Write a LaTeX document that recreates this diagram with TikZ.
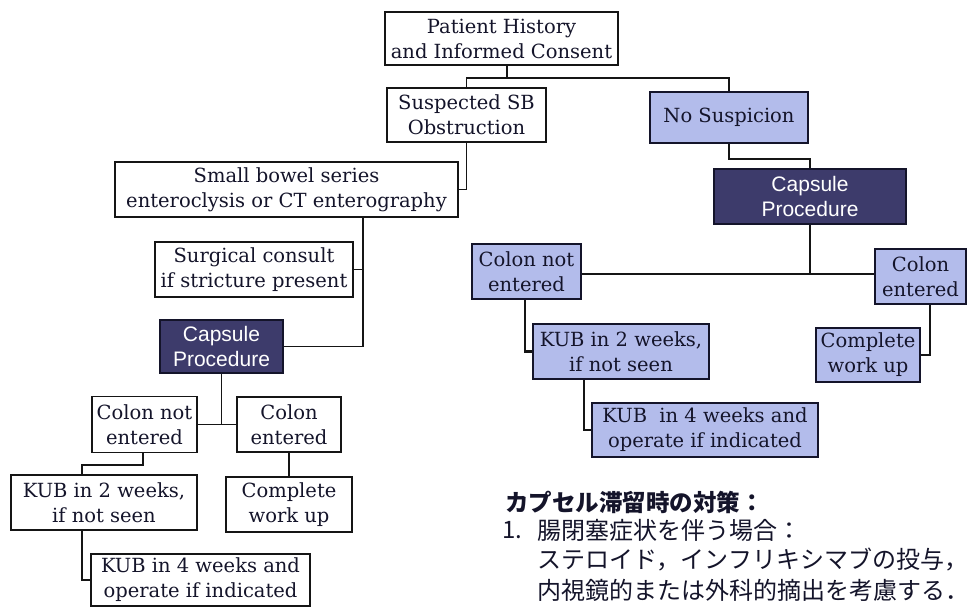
\documentclass[tikz,border=0pt]{standalone}
\usepackage{fontspec}
\setmainfont{DejaVu Serif}
\setsansfont{Liberation Sans}
\newfontfamily\cjk{Noto Sans CJK JP}
\definecolor{lightbox}{HTML}{B3BCEB}
\definecolor{darkbox}{HTML}{3D3B6B}
\definecolor{navy}{HTML}{14142A}
\definecolor{inkline}{HTML}{151515}
\begin{document}
\begin{tikzpicture}[x=1pt,y=-1pt,
  boxbase/.style={rectangle, inner sep=0pt, align=center, font=\fontsize{19.5}{25}\selectfont},
  wbox/.style={boxbase, draw=inkline, line width=1.2pt, fill=white, text=navy},
  lbox/.style={boxbase, draw=navy, line width=1.5pt, fill=lightbox, text=navy},
  dbox/.style={boxbase, draw=navy, line width=1.5pt, fill=darkbox, text=white, font=\sffamily\fontsize{21}{25}\selectfont},
  thinline/.style={draw=inkline, line width=1.2pt},
  thickline/.style={draw=inkline, line width=2.2pt},
  jp/.style={inner sep=0pt, anchor=west, text=navy, font=\cjk\fontsize{24}{29}\selectfont}
]
\useasboundingbox (0,0) rectangle (974,610);

% ---- top
\node[wbox, minimum width=233pt, minimum height=53pt] (ph) at (501.5,38.5) {Patient History\\and Informed Consent};
\node[wbox, minimum width=159pt, minimum height=54pt] (sb) at (466.5,115) {Suspected SB\\Obstruction};
\node[lbox, minimum width=158pt, minimum height=51pt] (ns) at (729,117.5) {No Suspicion};

% ---- left branch
\node[wbox, minimum width=343pt, minimum height=55pt] (sbs) at (286.5,189.5) {Small bowel series\\enteroclysis or CT enterography};
\node[wbox, minimum width=198pt, minimum height=55pt] (sc) at (254,269.5) {Surgical consult\\if stricture present};
\node[dbox, minimum width=123pt, minimum height=53pt] (cpL) at (221.5,346.5) {Capsule\\Procedure};
\node[wbox, minimum width=105pt, minimum height=56pt] (cneL) at (144.5,424.5) {Colon not\\entered};
\node[wbox, minimum width=104pt, minimum height=55pt] (ceL) at (289,424.5) {Colon\\entered};
\node[wbox, minimum width=186pt, minimum height=55pt] (kub2L) at (104,502.5) {KUB in 2 weeks,\\if not seen};
\node[wbox, minimum width=126pt, minimum height=55pt] (cwL) at (289,504.5) {Complete\\work up};
\node[wbox, minimum width=219pt, minimum height=52pt] (kub4L) at (200.5,580) {KUB in 4 weeks and\\operate if indicated};

% ---- right branch
\node[dbox, minimum width=192pt, minimum height=55pt] (cpR) at (810,196.5) {Capsule\\Procedure};
\node[lbox, minimum width=109pt, minimum height=55pt] (cneR) at (526.5,271.5) {Colon not\\entered};
\node[lbox, minimum width=91pt, minimum height=55pt] (ceR) at (920.5,276.5) {Colon\\entered};
\node[lbox, minimum width=176pt, minimum height=55pt] (kub2R) at (621,351.5) {KUB in 2 weeks,\\if not seen};
\node[lbox, minimum width=226pt, minimum height=54pt] (kub4R) at (705,430) {KUB\ \ in 4 weeks and\\operate if indicated};
\node[lbox, minimum width=104pt, minimum height=54pt] (cwR) at (868,355) {Complete\\work up};

% ---- helper coordinates
\coordinate (jtop) at (507,78);
\coordinate (vL) at (363,0);
\coordinate (vL2) at (143,0);
\coordinate (vR1) at (525,0);
\coordinate (eL1) at (82,465);
\coordinate (vR2) at (584,0);
\coordinate (vR3) at (930,0);
\coordinate (jR) at (810,274);

% ---- connectors, top
\draw[thickline] (ph.south -| jtop) -- (jtop);
\draw[thinline] (sb.north) -- (sb.north |- jtop) -- (jtop);
\draw[thickline] (jtop) -| (ns.north);

% ---- connectors, left
\draw[thinline] (sb.south) |- (sbs.east);
\draw[thinline] (sbs.south -| vL) |- (cpL.east);
\draw[thinline] (sc.east) -- (sc.east -| vL);
\draw[thinline] (cpL.south) -- (cpL.south |- cneL.east);
\draw[thinline] (cneL.east) -- (ceL.west);
\draw[thinline] (cneL.south -| vL2) |- (eL1) -- (eL1 |- kub2L.north);
\draw[thinline] (ceL.south) -- (cwL.north);
\draw[thinline] (kub2L.south -| eL1) |- (kub4L.west);

% ---- connectors, right
\draw[thickline] (ns.south) -- ++(0,15) -| (cpR.north);
\draw[thickline] (cpR.south) -- (jR);
\draw[thickline] (cneR.east |- jR) -- (ceR.west |- jR);
\draw[thickline] (cneR.south -| vR1) |- (kub2R.west);
\draw[thickline] (kub2R.south -| vR2) |- (kub4R.west);
\draw[thickline] (ceR.south -| vR3) |- (cwR.east);

% ---- Japanese notes
\node[jp, font=\cjk\bfseries\fontsize{23.5}{29}\selectfont] (jt) at (505,502.5) {カプセル滞留時の対策：};
\node[jp] (j1n) at (502,530) {1.};
\node[jp] (j1) at (537,530) {腸閉塞症状を伴う場合：};
\node[jp] (j2) at (537,559) {ステロイド，インフリキシマブの投与，};
\node[jp] (j3) at (537,590) {内視鏡的または外科的摘出を考慮する．};
\end{tikzpicture}
\end{document}
